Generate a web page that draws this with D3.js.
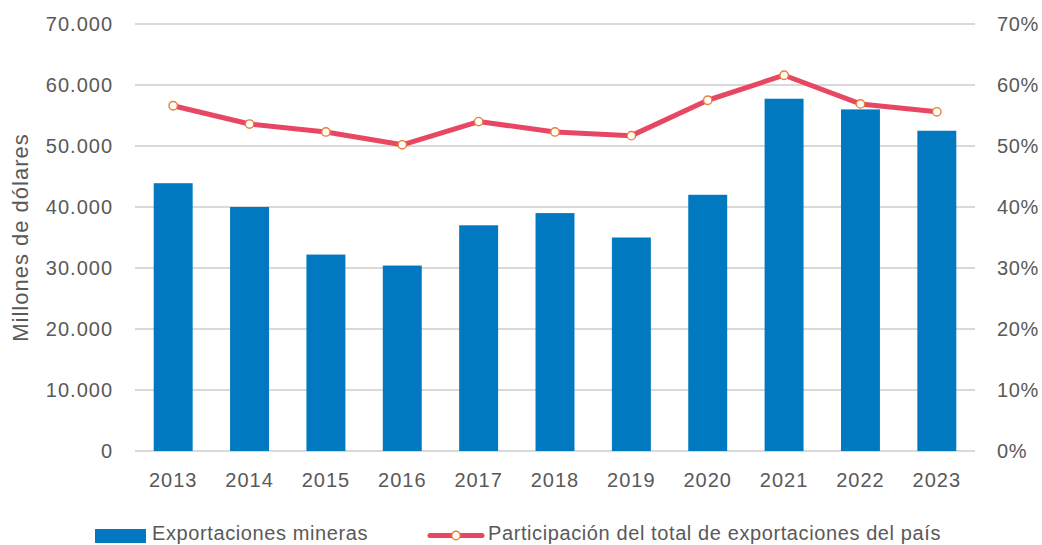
<!DOCTYPE html>
<meta charset="utf-8">
<style>
body { margin: 0; background: #fff; }
svg text { font-family: "Liberation Sans", Arial, sans-serif; fill: #595959; }
.grid line { stroke: #d9d9d9; stroke-width: 1.3; shape-rendering: crispEdges; }
</style>
<svg id="chart" width="1042" height="545"></svg>
<script src="https://cdnjs.cloudflare.com/ajax/libs/d3/7.8.5/d3.min.js"></script>
<script>

var years = ["2013", "2014", "2015", "2016", "2017", "2018", "2019", "2020", "2021", "2022", "2023"];
var exportaciones = [43900, 40000, 32200, 30400, 37000, 39000, 35000, 42000, 57750, 56000, 52500];
var participacion = [0.566, 0.536, 0.523, 0.502, 0.540, 0.523, 0.517, 0.575, 0.616, 0.569, 0.556];
var leftTicks = [0, 10000, 20000, 30000, 40000, 50000, 60000, 70000];
var rightTicks = [0, 0.1, 0.2, 0.3, 0.4, 0.5, 0.6, 0.7];

var svg = d3.select("#chart"),
    plotLeft = 135, plotRight = 975, plotTop = 24, plotBottom = 451;

var es = d3.formatLocale({decimal: ",", thousands: ".", grouping: [3], currency: ["", "€"]});
var fmt = es.format(",d");

var x = d3.scaleBand().domain(years).range([plotLeft, plotRight]).paddingInner(0.49).paddingOuter(0.245);
var y = d3.scaleLinear().domain([0, 70000]).range([plotBottom, plotTop]);
var y2 = d3.scaleLinear().domain([0, 0.7]).range([plotBottom, plotTop]);

// gridlines
svg.append("g").attr("class", "grid")
  .selectAll("line").data(leftTicks).enter().append("line")
    .attr("x1", plotLeft).attr("x2", plotRight)
    .attr("y1", function(d) { return y(d); })
    .attr("y2", function(d) { return y(d); });

// left axis labels
svg.append("g").selectAll("text").data(leftTicks).enter().append("text")
    .attr("x", plotLeft - 22)
    .attr("y", function(d) { return y(d); })
    .attr("dy", "0.35em")
    .attr("text-anchor", "end")
    .style("font-size", "20px")
    .style("letter-spacing", "1px")
    .text(function(d) { return fmt(d); });

// right axis labels
svg.append("g").selectAll("text").data(rightTicks).enter().append("text")
    .attr("x", plotRight + 22)
    .attr("y", function(d) { return y2(d); })
    .attr("dy", "0.35em")
    .attr("text-anchor", "start")
    .style("font-size", "20px")
    .style("letter-spacing", "0.6px")
    .text(function(d) { return Math.round(d * 100) + "%"; });

// year labels
svg.append("g").selectAll("text").data(years).enter().append("text")
    .attr("x", function(d) { return x(d) + x.bandwidth() / 2; })
    .attr("y", 480)
    .attr("dy", "0.35em")
    .attr("text-anchor", "middle")
    .style("font-size", "20px")
    .style("letter-spacing", "1px")
    .text(function(d) { return d; });

// axis title
svg.append("text")
    .attr("transform", "translate(28," + ((plotTop + plotBottom) / 2) + ") rotate(-90)")
    .attr("text-anchor", "middle")
    .style("font-size", "22px")
    .style("letter-spacing", "1px")
    .text("Millones de dólares");

// bars
svg.append("g").selectAll("rect").data(years).enter().append("rect")
    .attr("x", function(d) { return x(d); })
    .attr("width", x.bandwidth())
    .attr("y", function(d, i) { return y(exportaciones[i]); })
    .attr("height", function(d, i) { return y(0) - y(exportaciones[i]); })
    .attr("fill", "#0079c1");

// line
var line = d3.line()
    .x(function(d, i) { return x(years[i]) + x.bandwidth() / 2; })
    .y(function(d) { return y2(d); });

svg.append("path")
    .datum(participacion)
    .attr("d", line)
    .attr("fill", "none")
    .attr("stroke", "#e84763")
    .attr("stroke-width", 5)
    .attr("stroke-linejoin", "round");

svg.append("g").selectAll("circle").data(participacion).enter().append("circle")
    .attr("cx", function(d, i) { return x(years[i]) + x.bandwidth() / 2; })
    .attr("cy", function(d) { return y2(d); })
    .attr("r", 4.2)
    .attr("fill", "#fff")
    .attr("stroke", "#ed7d31")
    .attr("stroke-width", 1.4);

// legend
var lg = svg.append("g");
lg.append("rect").attr("x", 95).attr("y", 529).attr("width", 51).attr("height", 14).attr("fill", "#0079c1");
lg.append("text").attr("x", 152).attr("y", 540).style("font-size", "20px").style("letter-spacing", "0.6px")
    .text("Exportaciones mineras");
lg.append("line").attr("x1", 430).attr("x2", 482).attr("y1", 535.5).attr("y2", 535.5)
    .attr("stroke", "#e84763").attr("stroke-width", 5).attr("stroke-linecap", "round");
lg.append("circle").attr("cx", 456).attr("cy", 535.5).attr("r", 4.2)
    .attr("fill", "#fff").attr("stroke", "#ed7d31").attr("stroke-width", 1.4);
lg.append("text").attr("x", 488).attr("y", 540).style("font-size", "20px").style("letter-spacing", "0.6px")
    .text("Participación del total de exportaciones del país");

</script>
